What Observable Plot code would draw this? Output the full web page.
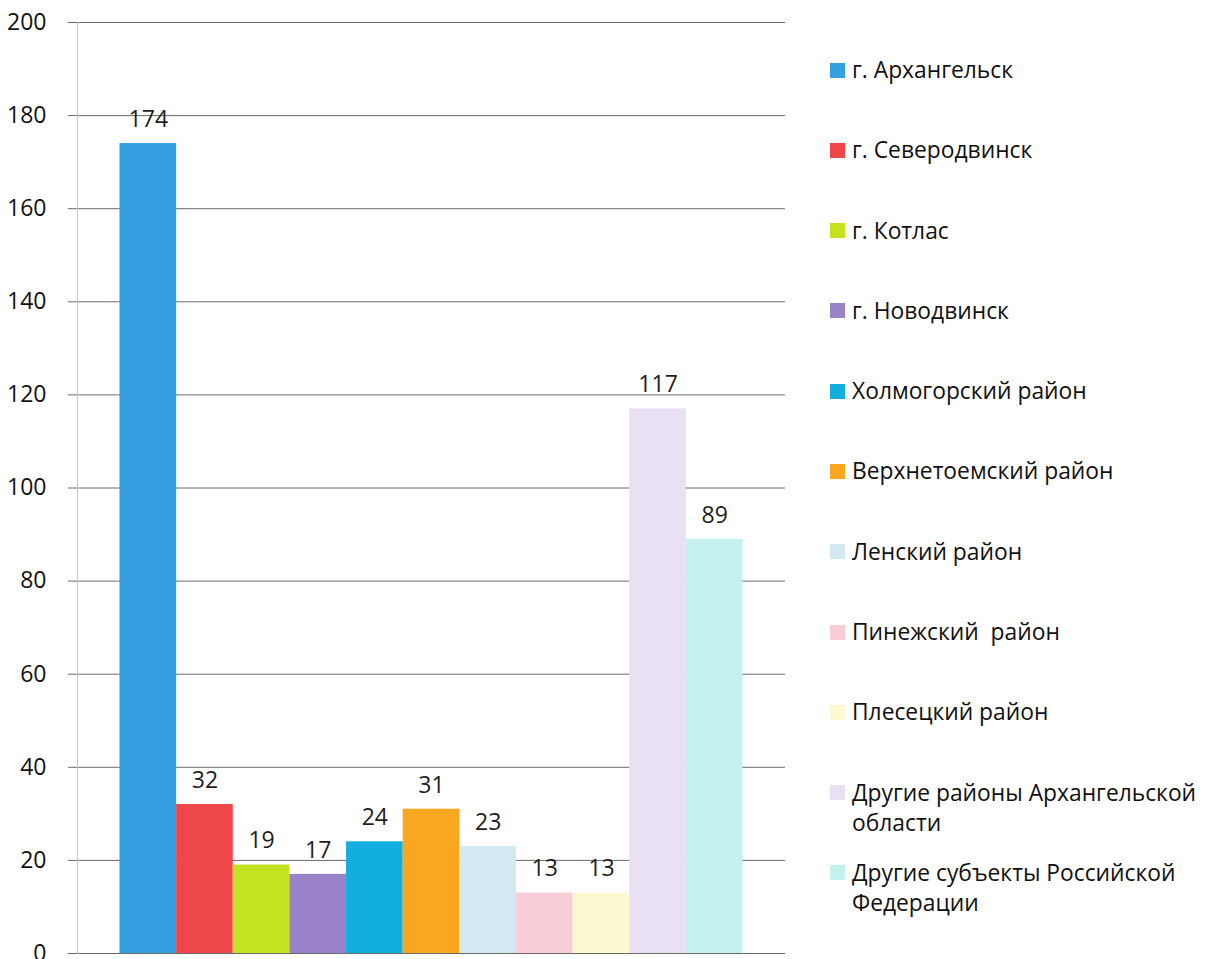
<!DOCTYPE html>
<html><head><meta charset="utf-8">
<script src="https://cdn.jsdelivr.net/npm/d3@7"></script>
<script src="https://cdn.jsdelivr.net/npm/@observablehq/plot@0.6"></script>
<style>
body{margin:0;background:#fff;}
#wrap{position:relative;width:1214px;height:959px;overflow:hidden;}
#chart{position:absolute;left:0;top:0;}
#legend{position:absolute;left:830px;top:55px;font-family:"Open Sans",sans-serif;font-size:22.8px;color:#111;}
.item{height:80.3px;display:flex;align-items:flex-start;}
.sw{width:15px;height:15px;margin-top:7.5px;margin-right:7px;flex:none;}
.lab{line-height:30px;width:370px;white-space:pre-wrap;}
</style></head>
<body>
<div id="wrap"><div id="chart"></div><div id="legend"></div></div>
<script>
const categories = [
  "г. Архангельск",
  "г. Северодвинск",
  "г. Котлас",
  "г. Новодвинск",
  "Холмогорский район",
  "Верхнетоемский район",
  "Ленский район",
  "Пинежский  район",
  "Плесецкий район",
  "Другие районы Архангельской области",
  "Другие субъекты Российской Федерации"
];
const values = [174, 32, 19, 17, 24, 31, 23, 13, 13, 117, 89];
const colors = ["#34a0e2", "#ef4649", "#c5e221", "#9a82c8", "#12aede", "#f9a620", "#d4e8f2", "#f9cdd6", "#fbf9d2", "#e9e0f3", "#c4f0f0"];
const yTicks = [0, 20, 40, 60, 80, 100, 120, 140, 160, 180, 200];

const data = categories.map((name, i) => ({name, value: values[i]}));

const chart = Plot.plot({
  width: 800,
  height: 959,
  marginLeft: 77,
  marginRight: 15,
  marginTop: 22,
  marginBottom: 6,
  style: {fontFamily: "Open Sans, sans-serif", background: "#fff"},
  x: {domain: categories, paddingInner: 0, paddingOuter: 0.75, round: false, axis: null},
  y: {domain: [0, 200], axis: null, label: null},
  color: {domain: categories, range: colors},
  marks: [
    Plot.gridY(yTicks, {stroke: "#6b6b6b", strokeOpacity: 1}),
    Plot.frame({anchor: "left", stroke: "#c8c8c8"}),
    Plot.axisY(yTicks, {tickSize: 9, tickPadding: 22, fontSize: 23, stroke: "#6b6b6b", fill: "#111", label: null, tickFormat: d => String(d)}),
    Plot.barY(data, {x: "name", y: "value", fill: "name"}),
    Plot.text(data, {x: "name", y: "value", text: d => String(d.value), dy: -24, fontSize: 23, fill: "#1e1e1e"})
  ]
});
document.getElementById("chart").appendChild(chart);

const legend = document.getElementById("legend");
categories.forEach((name, i) => {
  const item = document.createElement("div");
  item.className = "item";
  const sw = document.createElement("div");
  sw.className = "sw";
  sw.style.background = colors[i];
  const lab = document.createElement("div");
  lab.className = "lab";
  lab.textContent = name;
  item.appendChild(sw);
  item.appendChild(lab);
  legend.appendChild(item);
});
</script>
</body></html>
